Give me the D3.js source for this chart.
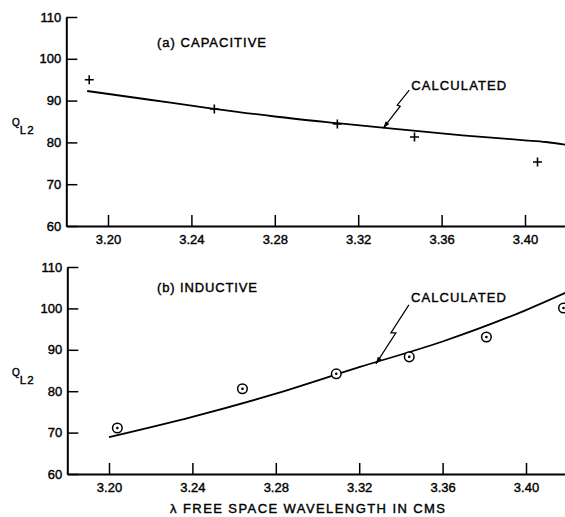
<!DOCTYPE html>
<meta charset="utf-8">
<title>Q_L2 vs wavelength</title>
<body>
<script src="https://cdn.jsdelivr.net/npm/d3@7"></script>
<style>
html, body {
    margin: 0;
    background: #fff;
}
svg {
    display: block;
    font-family: "Liberation Sans", Arial, sans-serif;
}
.axis path, .axis line {
    stroke: #000;
}
.axis path {
    stroke-width: 2;
}
.axis line {
    stroke-width: 1.5;
}
.axis text, .lbl {
    font-size: 13px;
    fill: #000;
    stroke: #000;
    stroke-width: 0.4;
}
</style>
<script>
var width = 565,
    height = 517;

// shared ticks
var xTicks = [3.20, 3.24, 3.28, 3.32, 3.36, 3.40],
    yTicks = [60, 70, 80, 90, 100, 110];

// (a) capacitive
var capMeasured = [[3.191, 95.0], [3.251, 88.0], [3.310, 84.4], [3.347, 81.3], [3.406, 75.3]];
var capCalc = [[3.19, 92.3], [3.22, 90.2], [3.25, 88.1], [3.28, 86.2], [3.31, 84.6],
               [3.34, 83.1], [3.37, 81.7], [3.40, 80.5], [3.41, 80.1], [3.42, 79.4]];

// (b) inductive
var indMeasured = [[3.204, 71.1], [3.264, 80.6], [3.309, 84.2], [3.344, 88.3], [3.381, 93.1], [3.418, 100.1]];
var indCalc = [[3.20, 68.9], [3.24, 73.8], [3.28, 79.4], [3.32, 85.8], [3.36, 92.0], [3.40, 99.6], [3.42, 104.0]];

var panels = [
    { title: "(a) CAPACITIVE", measured: capMeasured, calc: capCalc, marker: "cross",
      top: 17, bottom: 226, left: 66.3, tip: [3.332, 83.4],
      arrow: [[26, -38], [14, -23], [17, -22]], note: [28, -43], titleAt: [157, 42], qy: 126 },
    { title: "(b) INDUCTIVE", measured: indMeasured, calc: indCalc, marker: "circle",
      top: 267, bottom: 474, left: 67.3, tip: [3.328, 86.6],
      arrow: [[33, -59], [15, -31], [20, -31]], note: [35, -66], titleAt: [157, 287], qy: 376 }
];

var svg = d3.select("body").append("svg")
    .attr("width", width)
    .attr("height", height);

panels.forEach(function(p) {
    var x = d3.scaleLinear().domain([3.18, 3.42]).range([p.left, p.left + 0.24 * 2085]),
        y = d3.scaleLinear().domain([60, 110]).range([p.bottom, p.top]);

    var g = svg.append("g");

    g.append("g")
        .attr("class", "axis")
        .attr("transform", "translate(0," + p.bottom + ")")
        .call(d3.axisBottom(x).tickValues(xTicks).tickFormat(d3.format(".2f"))
            .tickSizeInner(-11).tickSizeOuter(0).tickPadding(6))
        .call(function(a) { a.selectAll("text").attr("dy", "0.9em"); });

    g.append("g")
        .attr("class", "axis")
        .attr("transform", "translate(" + p.left + ",0)")
        .call(d3.axisLeft(y).tickValues(yTicks).tickFormat(d3.format("d"))
            .tickSizeInner(-11).tickSizeOuter(0).tickPadding(5));

    var line = d3.line()
        .x(function(d) { return x(d[0]); })
        .y(function(d) { return y(d[1]); })
        .curve(d3.curveMonotoneX);

    g.append("path")
        .datum(p.calc)
        .attr("d", line)
        .attr("fill", "none")
        .attr("stroke", "#000")
        .attr("stroke-width", 1.8);

    if (p.marker == "cross") {
        g.selectAll(".pt").data(p.measured).enter().append("path")
            .attr("d", function(d) {
                var cx = x(d[0]), cy = y(d[1]);
                return "M" + (cx - 4.5) + "," + cy + "h9M" + cx + "," + (cy - 4.5) + "v9";
            })
            .attr("stroke", "#000")
            .attr("stroke-width", 1.6);
    } else {
        var pt = g.selectAll(".pt").data(p.measured).enter().append("g")
            .attr("transform", function(d) { return "translate(" + [x(d[0]), y(d[1])] + ")"; });
        pt.append("circle").attr("r", 4.8).attr("fill", "#fff").attr("stroke", "#000").attr("stroke-width", 1.5);
        pt.append("circle").attr("r", 1.3).attr("fill", "#000");
    }

    // "CALCULATED" pointer
    var tx = x(p.tip[0]), ty = y(p.tip[1]);
    var a = p.arrow;
    g.append("path")
        .attr("d", "M" + (tx + a[0][0]) + "," + (ty + a[0][1]) +
                   "L" + (tx + a[1][0]) + "," + (ty + a[1][1]) +
                   "L" + (tx + a[2][0]) + "," + (ty + a[2][1]) +
                   "L" + tx + "," + ty)
        .attr("fill", "none")
        .attr("stroke", "#000")
        .attr("stroke-width", 1.2);
    var ang = Math.atan2(a[2][1], a[2][0]);
    var hx = tx + 7 * Math.cos(ang), hy = ty + 7 * Math.sin(ang),
        px = 2.3 * Math.cos(ang + Math.PI / 2), py = 2.3 * Math.sin(ang + Math.PI / 2);
    g.append("path")
        .attr("d", "M" + tx + "," + ty + "L" + (hx + px) + "," + (hy + py) + "L" + (hx - px) + "," + (hy - py) + "Z")
        .attr("fill", "#000");

    g.append("text")
        .attr("class", "lbl")
        .attr("x", tx + p.note[0])
        .attr("y", ty + p.note[1])
        .attr("dy", "0.35em")
        .attr("textLength", 95)
        .attr("lengthAdjust", "spacing")
        .text("CALCULATED");

    g.append("text")
        .attr("class", "lbl")
        .attr("x", p.titleAt[0])
        .attr("y", p.titleAt[1])
        .attr("dy", "0.35em")
        .attr("textLength", p.marker == "cross" ? 109 : 100)
        .attr("lengthAdjust", "spacing")
        .text(p.title);

    var q = g.append("text")
        .attr("class", "lbl")
        .attr("x", 12)
        .attr("y", p.qy);
    q.append("tspan").style("font-size", "10px").text("Q");
    q.append("tspan").attr("dy", 7.5).style("font-size", "11.5px").style("letter-spacing", "1px").text("L2");
});

svg.append("text")
    .attr("class", "lbl")
    .attr("x", 170)
    .attr("y", 508)
    .attr("dy", "0.35em")
    .attr("textLength", 275)
    .attr("lengthAdjust", "spacing")
    .text("λ FREE SPACE WAVELENGTH IN CMS");
</script>
